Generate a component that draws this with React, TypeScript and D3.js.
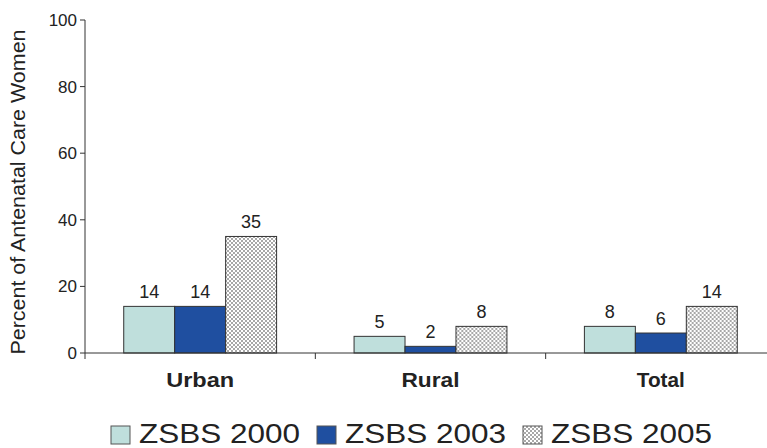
import React from "react";
import * as d3 from "d3";

const categories = ["Urban", "Rural", "Total"];
const seriesNames = ["ZSBS 2000", "ZSBS 2003", "ZSBS 2005"];
const zsbs2000 = [14, 5, 8];
const zsbs2003 = [14, 2, 6];
const zsbs2005 = [35, 8, 14];
const yTicks = [0, 20, 40, 60, 80, 100];

const W = 767;
const H = 448;
const fills = ["#bfdfdc", "#1f4fa0", "url(#checker)"];

export default function App() {
  const series = [zsbs2000, zsbs2003, zsbs2005];
  const x = d3.scaleBand<string>().domain(categories).range([85, 776]).paddingInner(0).paddingOuter(0);
  const x1 = d3.scaleBand<string>().domain(seriesNames).range([0, x.bandwidth()]).paddingOuter(0.76).paddingInner(0);
  const y = d3.scaleLinear().domain([0, 100]).range([353, 20]);
  const font = "'Liberation Sans', Arial, sans-serif";

  const legendItems = [
    { x: 111, label: seriesNames[0] },
    { x: 317, label: seriesNames[1] },
    { x: 523, label: seriesNames[2] },
  ];
  const catWidths = [68, 58, 48];

  return (
    <svg width={W} height={H} style={{ position: "absolute", left: 0, top: 0 }} fontFamily={font}>
      <defs>
        <pattern id="checker" x="0" y="0" width="4" height="4" patternUnits="userSpaceOnUse">
          <rect width="4" height="4" fill="#ffffff" />
          <rect width="2" height="2" fill="#a8a8a8" />
          <rect x="2" y="2" width="2" height="2" fill="#a8a8a8" />
        </pattern>
      </defs>
      <rect width={W} height={H} fill="#fff" />
      {/* y axis */}
      <line x1={85} x2={85} y1={y(100)} y2={y(0)} stroke="#333" strokeWidth={1} />
      {yTicks.map((t) => (
        <g key={t}>
          <line x1={80} x2={85} y1={y(t)} y2={y(t)} stroke="#333" />
          <text x={77} y={y(t)} dy="0.35em" textAnchor="end" fontSize={17} fill="#222">
            {t}
          </text>
        </g>
      ))}
      <text
        transform={`translate(25,${192}) rotate(-90)`}
        textAnchor="middle"
        fontSize={20}
        fill="#222"
        textLength={325}
        lengthAdjust="spacingAndGlyphs"
      >
        Percent of Antenatal Care Women
      </text>
      {/* bars */}
      {categories.map((c, ci) => (
        <g key={c} transform={`translate(${x(c)},0)`}>
          {series.map((s, si) => {
            const bx = x1(seriesNames[si])!;
            const v = s[ci];
            return (
              <g key={si}>
                <rect
                  x={bx}
                  y={y(v)}
                  width={x1.bandwidth()}
                  height={y(0) - y(v)}
                  fill={fills[si]}
                  stroke="#333"
                  strokeWidth={1}
                />
                <text
                  x={bx + x1.bandwidth() / 2}
                  y={y(v) - 8}
                  textAnchor="middle"
                  fontSize={18}
                  fill="#222"
                >
                  {v}
                </text>
              </g>
            );
          })}
          <text
            x={x.bandwidth() / 2}
            y={387}
            textAnchor="middle"
            fontSize={20}
            fontWeight="bold"
            fill="#222"
            textLength={catWidths[ci]}
            lengthAdjust="spacingAndGlyphs"
          >
            {c}
          </text>
        </g>
      ))}
      {/* x axis */}
      <line x1={85} x2={776} y1={y(0)} y2={y(0)} stroke="#333" />
      {categories.map((c) => (
        <line key={c} x1={x(c)!} x2={x(c)!} y1={y(0)} y2={y(0) + 6} stroke="#333" />
      ))}
      {/* legend */}
      {legendItems.map((it, i) => (
        <g key={it.label}>
          <rect x={it.x} y={426} width={19} height={18} fill={fills[i]} stroke="#555" />
          <text
            x={it.x + 28}
            y={443}
            fontSize={28}
            fill="#222"
            textLength={161}
            lengthAdjust="spacingAndGlyphs"
          >
            {it.label}
          </text>
        </g>
      ))}
    </svg>
  );
}
